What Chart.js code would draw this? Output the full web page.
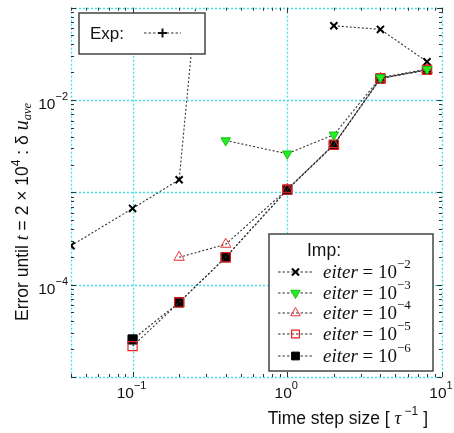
<!DOCTYPE html>
<html lang="en">
  <head>
    <meta charset="UTF-8" />
    <title>Error vs time step</title>
    <style>
      body { margin: 0; background: #fff; }
      #wrap { width: 454px; height: 433px; }
    </style>
  </head>
  <body>
    <div id="wrap"><canvas id="lienzo"></canvas></div>

    <script src="https://cdn.jsdelivr.net/npm/chart.js"></script>

    <script>
      // time step sizes [1/tau]
      const pasos = [0.04, 0.1, 0.2, 0.4, 1, 2, 4, 8];

      // error until t = 2e4 (null = not computed / not shown)
      const errExp = [2.64e-4, 6.7e-4, 1.37e-3, 2.6e2, null, null, null, null];
      const errE2 = [null, null, null, null, null, 0.0637, 0.0582, 0.026];
      const errE3 = [null, null, null, 3.64e-3, 2.62e-3, 4.2e-3, 0.0175, 0.0216];
      const errE4 = [null, null, 1.98e-4, 2.74e-4, 1.08e-3, 3.3e-3, 0.0172, 0.0212];
      const errE5 = [null, 2.16e-5, 6.43e-5, 1.98e-4, 1.07e-3, 3.27e-3, 0.0171, 0.0212];
      const errE6 = [null, 2.55e-5, 6.43e-5, 1.98e-4, 1.07e-3, 3.27e-3, 0.0171, 0.0212];

      const exponentesImp = ["-2", "-3", "-4", "-5", "-6"];
      const ticksX = [0.1, 1, 10];
      const ticksY = [1e-5, 1e-4, 1e-3, 1e-2, 1e-1];
      const etiquetasX = [["10", "-1"], ["10", "0"], ["10", "1"]];
      const etiquetasY = [[1e-2, "10", "-2"], [1e-4, "10", "-4"]];

      const SANS = '"Liberation Sans", Arial, sans-serif';
      const SERIF = '"Liberation Serif", "Times New Roman", serif';
      const CIAN = "#3fe2ec";
      const LINEA = "#333";

      function puntos(valores) {
        const res = [];
        valores.forEach((v, i) => {
          if (v !== null) res.push({ x: pasos[i], y: v });
        });
        return res;
      }

      function serie(nombre, valores, estilo, orden) {
        return Object.assign(
          {
            label: nombre,
            data: puntos(valores),
            borderColor: LINEA,
            borderWidth: 1.1,
            borderDash: [2, 2],
            fill: false,
            order: orden,
          },
          estilo
        );
      }

      const cruz = { pointStyle: "crossRot", pointRadius: 5, pointBorderWidth: 2, pointBorderColor: "#000", pointBackgroundColor: "#000" };
      const trianguloVerde = { pointStyle: "triangle", pointRotation: 180, pointRadius: 5.5, pointBorderWidth: 1, pointBorderColor: "#18c018", pointBackgroundColor: "#22ee22" };
      const trianguloRojo = { pointStyle: "triangle", pointRadius: 6, pointBorderWidth: 1, pointBorderColor: "#f03030", pointBackgroundColor: "rgba(0,0,0,0)" };
      const cuadroRojo = { pointStyle: "rect", pointRadius: 6.5, pointBorderWidth: 1.2, pointBorderColor: "#f02020", pointBackgroundColor: "rgba(0,0,0,0)" };
      const cuadroNegro = { pointStyle: "rect", pointRadius: 6.5, pointBorderWidth: 1, pointBorderColor: "#000", pointBackgroundColor: "#000" };

      const datasets = [
        serie("Exp", errExp, cruz, 5),
        serie("1e-2", errE2, cruz, 4),
        serie("1e-3", errE3, trianguloVerde, 0),
        serie("1e-4", errE4, trianguloRojo, 1),
        serie("1e-5", errE5, cuadroRojo, 2),
        serie("1e-6", errE6, cuadroNegro, 3),
      ];

      // texto con trozos de distinta fuente y desplazamiento vertical
      function texto(ctx, partes, x, y) {
        let cx = x;
        for (const [t, f, dy] of partes) {
          ctx.font = f;
          ctx.fillText(t, cx, y + (dy || 0));
          cx += ctx.measureText(t).width;
        }
        return cx - x;
      }
      function ancho(ctx, partes) {
        let w = 0;
        for (const [t, f] of partes) {
          ctx.font = f;
          w += ctx.measureText(t).width;
        }
        return w;
      }

      function marcador(ctx, estilo, x, y, radio, rot) {
        ctx.save();
        ctx.setLineDash([]);
        ctx.strokeStyle = estilo.pointBorderColor;
        ctx.fillStyle = estilo.pointBackgroundColor;
        ctx.lineWidth = estilo.pointBorderWidth;
        Chart.helpers.drawPoint(ctx, {
          pointStyle: estilo.pointStyle,
          radius: radio || estilo.pointRadius,
          rotation: rot !== undefined ? rot : estilo.pointRotation || 0,
          borderWidth: estilo.pointBorderWidth,
        }, x, y);
        ctx.restore();
      }

      function muestra(ctx, x0, x1, y, estilo, radio) {
        ctx.save();
        ctx.strokeStyle = LINEA;
        ctx.lineWidth = 1.1;
        ctx.setLineDash([2.5, 2]);
        ctx.beginPath();
        ctx.moveTo(x0, y);
        ctx.lineTo(x1, y);
        ctx.stroke();
        ctx.restore();
        marcador(ctx, estilo, (x0 + x1) / 2, y, radio);
      }

      // rejilla punteada en las decadas y marco
      const rejilla = {
        id: "rejilla",
        beforeDatasetsDraw(chart) {
          const ctx = chart.ctx;
          const sx = chart.scales.x;
          const sy = chart.scales.y;
          const a = chart.chartArea;
          ctx.save();
          ctx.strokeStyle = CIAN;
          ctx.lineWidth = 1.3;
          ctx.setLineDash([2, 2]);
          ctx.beginPath();
          const xs = [sx.min].concat(ticksX);
          xs.forEach((v) => {
            const px = Math.round(sx.getPixelForValue(v)) + 0.5;
            ctx.moveTo(px, a.top);
            ctx.lineTo(px, a.bottom);
          });
          ticksY.forEach((v) => {
            const py = Math.round(sy.getPixelForValue(v)) + 0.5;
            ctx.moveTo(a.left, py);
            ctx.lineTo(a.right, py);
          });
          ctx.stroke();
          ctx.restore();
        },
      };

      const leyendas = {
        id: "leyendas",
        afterDatasetsDraw(chart) {
          const ctx = chart.ctx;
          ctx.save();
          ctx.fillStyle = "#fff";
          ctx.strokeStyle = "#444";
          ctx.lineWidth = 1.5;
          ctx.setLineDash([]);

          // Exp
          ctx.fillRect(79, 13, 126, 41);
          ctx.strokeRect(79, 13, 126, 41);
          ctx.fillStyle = "#111";
          ctx.textBaseline = "alphabetic";
          ctx.font = "17px " + SANS;
          ctx.fillText("Exp:", 90, 39);
          muestra(ctx, 144, 181, 33, { pointStyle: "cross", pointRadius: 4.5, pointBorderWidth: 2, pointBorderColor: "#111", pointBackgroundColor: "#111" });

          // Imp
          ctx.fillStyle = "#fff";
          ctx.fillRect(269, 234, 164, 137);
          ctx.strokeRect(269, 234, 164, 137);
          ctx.fillStyle = "#111";
          ctx.font = "17.5px " + SANS;
          ctx.fillText("Imp:", 307, 256);
          const estilos = [cruz, trianguloVerde, trianguloRojo, cuadroRojo, cuadroNegro];
          const ys = [272, 293, 313, 334, 356];
          estilos.forEach((e, i) => {
            const y = ys[i];
            muestra(ctx, 278, 313, y, e, e.pointStyle === "crossRot" ? 5 : 5.5);
            ctx.fillStyle = "#111";
            texto(ctx, [
              ["eiter", "italic 19px " + SERIF, 0],
              [" = ", "19px " + SERIF, 0],
              ["10", "19px " + SERIF, 0],
              [exponentesImp[i].replace("-", "\u2212"), "13px " + SERIF, -10],
            ], 323, y + 6);
          });
          ctx.restore();
        },
        afterDraw(chart) {
          const ctx = chart.ctx;
          const sx = chart.scales.x;
          const sy = chart.scales.y;
          const a = chart.chartArea;
          ctx.save();
          ctx.setLineDash([]);
          ctx.strokeStyle = "#333";
          ctx.lineWidth = 1;

          // marcas menores hacia dentro en los cuatro lados
          ctx.beginPath();
          for (let d = -2; d <= 1; d++) {
            for (let m = 1; m <= 9; m++) {
              const v = m * Math.pow(10, d);
              if (v < sx.min || v > sx.max) continue;
              const px = Math.round(sx.getPixelForValue(v)) + 0.5;
              const l = m === 1 ? 5 : 3;
              ctx.moveTo(px, a.bottom); ctx.lineTo(px, a.bottom - l);
              ctx.moveTo(px, a.top); ctx.lineTo(px, a.top + l);
            }
          }
          for (let d = -5; d <= -1; d++) {
            for (let m = 1; m <= 9; m++) {
              const v = m * Math.pow(10, d);
              if (v < sy.min || v > sy.max) continue;
              const py = Math.round(sy.getPixelForValue(v)) + 0.5;
              const l = m === 1 ? 5 : 3;
              ctx.moveTo(a.left, py); ctx.lineTo(a.left + l, py);
              ctx.moveTo(a.right, py); ctx.lineTo(a.right - l, py);
            }
          }
          ctx.stroke();

          // etiquetas de los ejes
          ctx.fillStyle = "#111";
          ctx.textBaseline = "alphabetic";
          etiquetasX.forEach(([b, e], i) => {
            const partes = [[b, "15.5px " + SANS, 0], [e.replace("-", "\u2212"), "11px " + SANS, -9]];
            const w = ancho(ctx, partes);
            texto(ctx, partes, sx.getPixelForValue(ticksX[i]) - w / 2 - 1, 398);
          });
          etiquetasY.forEach(([v, b, e]) => {
            const partes = [[b, "15.5px " + SANS, 0], [e.replace("-", "\u2212"), "11px " + SANS, -9]];
            const w = ancho(ctx, partes);
            texto(ctx, partes, 68 - w, sy.getPixelForValue(v) + 9);
          });

          // titulo eje x
          const tx = [
            ["Time step size [ ", "17.5px " + SANS, 0],
            ["\u03c4", "italic 19px " + SERIF, 0],
            [" \u22121", "12px " + SANS, -9],
            [" ]", "17.5px " + SANS, 0],
          ];
          texto(ctx, tx, 428 - ancho(ctx, tx), 424);

          // titulo eje y
          const ty = [
            ["Error until ", "17.5px " + SANS, 0],
            ["t", "italic 18px " + SERIF, 0],
            [" = 2 \u00d7 10", "17.5px " + SANS, 0],
            ["4", "12px " + SANS, -8],
            [" : \u03b4 ", "17.5px " + SANS, 0],
            ["u", "italic 20px " + SERIF, 0],
            ["ave", "italic 12.5px " + SERIF, 3],
          ];
          const wy = ancho(ctx, ty);
          ctx.translate(28, 212);
          ctx.rotate(-Math.PI / 2);
          texto(ctx, ty, -wy / 2, 0);
          ctx.restore();
        },
      };

      const lienzo = document.querySelector("#lienzo");
      const grafico = new Chart(lienzo, {
        type: "line",
        data: { datasets },
        plugins: [rejilla, leyendas],
        options: {
          responsive: true,
          maintainAspectRatio: false,
          animation: false,
          events: [],
          layout: { padding: { top: 7, right: 12, left: 0, bottom: 0 } },
          plugins: { legend: { display: false }, tooltip: { enabled: false } },
          scales: {
            x: {
              type: "logarithmic",
              min: 0.04,
              max: 10,
              afterBuildTicks: (s) => { s.ticks = ticksX.map((v) => ({ value: v })); },
              afterFit: (s) => { s.height = 56; },
              ticks: { display: false },
              grid: { display: false },
              border: { display: false },
            },
            y: {
              type: "logarithmic",
              min: 1e-5,
              max: 1e-1,
              afterBuildTicks: (s) => { s.ticks = ticksY.map((v) => ({ value: v })); },
              afterFit: (s) => { s.width = 71; },
              ticks: { display: false },
              grid: { display: false },
              border: { display: false },
            },
          },
        },
      });
    </script>
  </body>
</html>
